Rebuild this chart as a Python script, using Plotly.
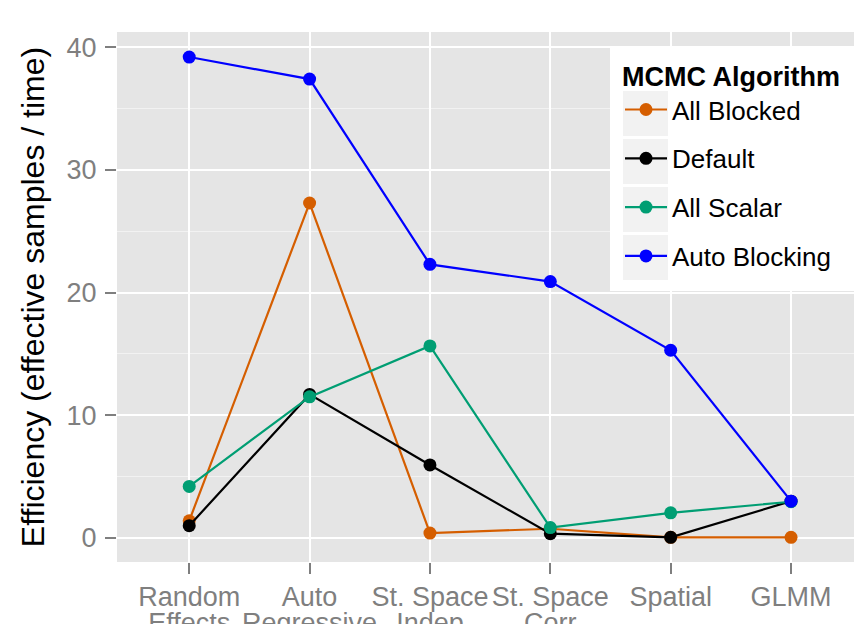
import plotly.graph_objects as go

categories = ["Random Effects", "Auto Regressive", "St. Space Indep",
              "St. Space Corr", "Spatial", "GLMM"]
tick_line1 = ["Random", "Auto", "St. Space", "St. Space", "Spatial", "GLMM"]
tick_line2 = ["Effects", "Regressive", "Indep", "Corr", "", ""]

series_names = ["All Blocked", "Default", "All Scalar", "Auto Blocking"]
all_blocked = [1.4, 27.3, 0.4, 0.75, 0.05, 0.05]
default = [1.0, 11.7, 5.95, 0.35, 0.05, 3.0]
all_scalar = [4.2, 11.5, 15.65, 0.85, 2.05, 2.95]
auto_blocking = [39.2, 37.4, 22.3, 20.9, 15.3, 3.0]
series_values = [all_blocked, default, all_scalar, auto_blocking]
series_colors = ["#D55E00", "#000000", "#009E73", "#0000FF"]

y_tickvals = [0, 10, 20, 30, 40]

FONT = "Liberation Sans, Arial, sans-serif"
W, H = 854, 624
ML, MR, MT, MB = 117, 0, 32, 62
PW, PH = W - ML - MR, H - MT - MB

fig = go.Figure()
for i, (name, vals, col) in enumerate(zip(series_names, series_values, series_colors)):
    fig.add_trace(go.Scatter(
        x=categories, y=vals, name=name, mode="lines+markers",
        line=dict(color=col, width=2.2),
        marker=dict(color=col, size=13),
        legendgroup=f"g{i}",
    ))

# carrier for the second line of the x tick labels
fig.add_trace(go.Scatter(x=categories, y=[None] * len(categories), xaxis="x2",
                         showlegend=False, hoverinfo="skip"))

def px_x(px):
    return (px - ML) / PW

def px_y(py):
    return (H - MB - py) / PH

# legend box and key backgrounds (ggplot style)
shapes = [dict(type="rect", xref="paper", yref="paper",
               x0=px_x(610), x1=px_x(860), y0=px_y(291), y1=px_y(48),
               fillcolor="white", line=dict(width=0), layer="above")]
for k in range(len(series_names)):
    top = 91 + 48 * k
    shapes.append(dict(type="rect", xref="paper", yref="paper",
                       x0=px_x(623), x1=px_x(668), y0=px_y(top + 45), y1=px_y(top),
                       fillcolor="#F2F2F2", line=dict(width=0), layer="above"))

fig.update_layout(
    width=W, height=H,
    margin=dict(l=ML, r=MR, t=MT, b=MB, autoexpand=False),
    paper_bgcolor="white", plot_bgcolor="#E5E5E5",
    font=dict(family=FONT, color="#7F7F7F", size=27),
    showlegend=True,
    shapes=shapes,
    legend=dict(
        x=px_x(620), y=px_y(51), xanchor="left", yanchor="top",
        bgcolor="rgba(0,0,0,0)", borderwidth=0,
        traceorder="grouped", tracegroupgap=12,
        itemwidth=42,
        font=dict(family=FONT, size=26, color="black"),
        title=dict(text="<b>MCMC Algorithm</b>",
                   font=dict(family=FONT, size=27, color="black")),
    ),
    xaxis=dict(
        type="category", categoryorder="array", categoryarray=categories,
        range=[-0.6, 5.523],
        tickvals=categories, ticktext=tick_line1,
        ticks="outside", ticklen=11, tickwidth=2, tickcolor="#7F7F7F",
        showgrid=True, gridcolor="white", gridwidth=2.2,
        zeroline=False, showline=False,
        tickfont=dict(family=FONT, size=27, color="#7F7F7F"),
    ),
    xaxis2=dict(
        type="category", categoryorder="array", categoryarray=categories,
        range=[-0.6, 5.523], overlaying="x", anchor="y", side="bottom",
        tickvals=categories, ticktext=tick_line2,
        ticks="", showgrid=False, zeroline=False, showline=False,
        ticklabelstandoff=42,
        tickfont=dict(family=FONT, size=27, color="#7F7F7F"),
    ),
    yaxis=dict(
        range=[-1.96, 41.24],
        tickvals=y_tickvals,
        ticks="outside", ticklen=11, tickwidth=2, tickcolor="#7F7F7F",
        ticklabelstandoff=3,
        showgrid=True, gridcolor="white", gridwidth=2,
        minor=dict(dtick=5, tick0=0, showgrid=True, gridcolor="#F2F2F2",
                   gridwidth=1.2, ticks=""),
        zeroline=False, showline=False,
        tickfont=dict(family=FONT, size=27, color="#7F7F7F"),
        title=dict(text="Efficiency (effective samples / time)",
                   font=dict(family=FONT, size=32, color="black"), standoff=12),
    ),
)

fig.write_html("out.html", config={"displayModeBar": False},
               post_script="document.body.style.margin='0';document.body.style.overflow='hidden';")
